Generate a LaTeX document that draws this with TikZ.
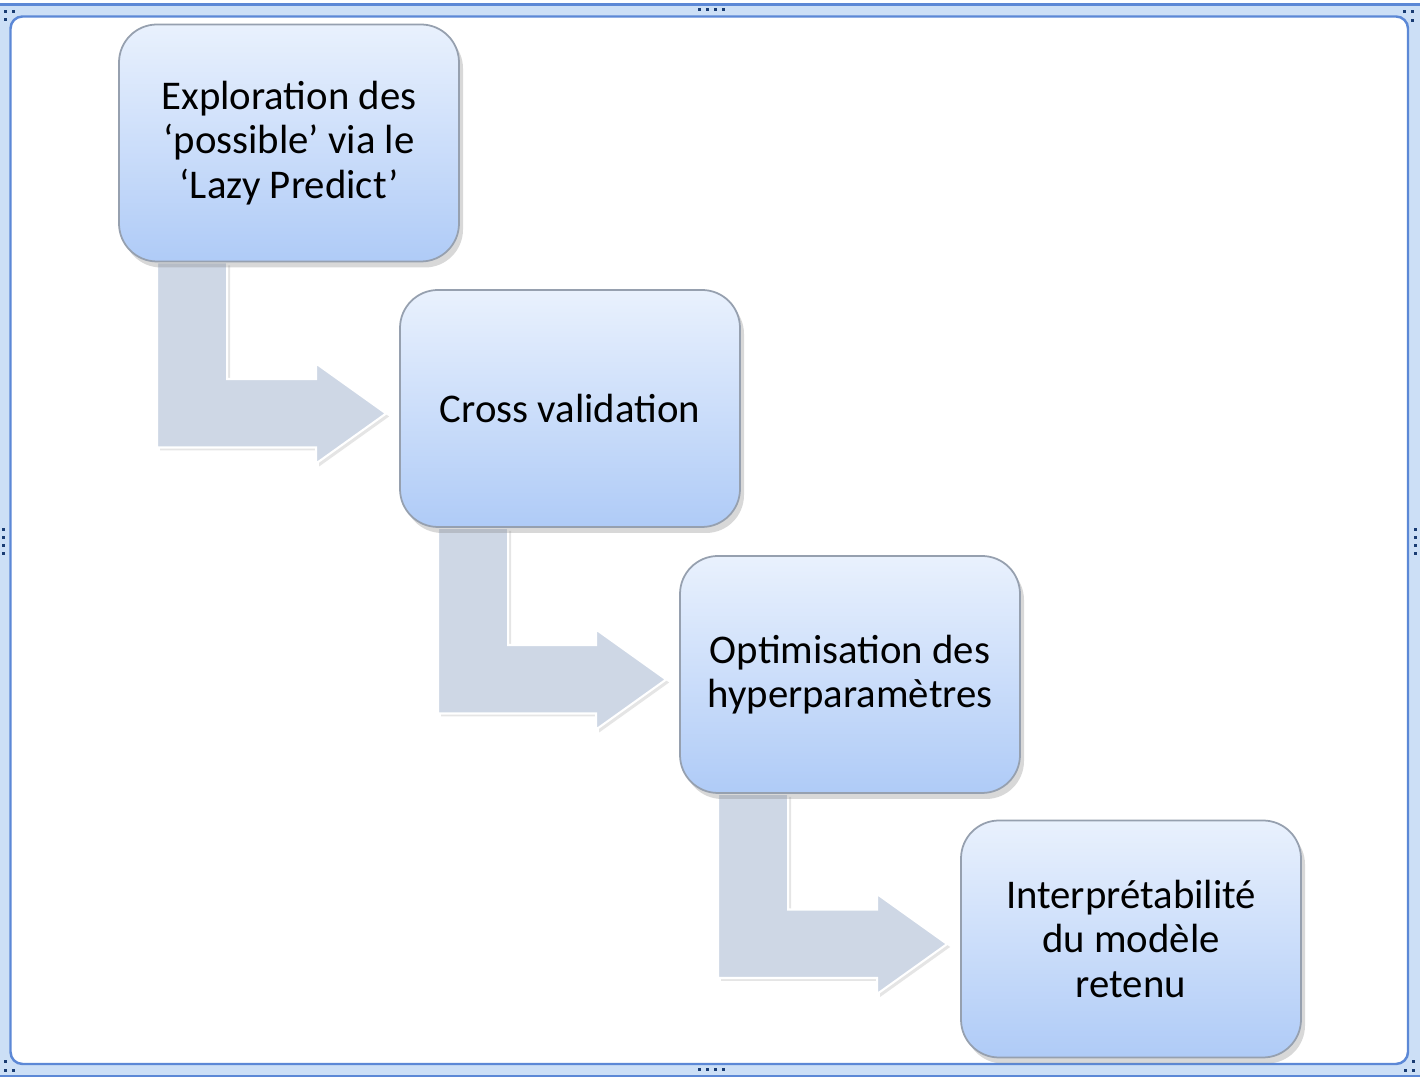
\documentclass[tikz,border=0pt]{standalone}
\usepackage{fontspec}
\setmainfont{Carlito}
\usepackage{xcolor}
\usetikzlibrary{shadows,backgrounds}

\definecolor{boxtop}{RGB}{233,241,253}
\definecolor{boxbot}{RGB}{175,203,247}
\definecolor{boxline}{RGB}{150,160,175}
\definecolor{arrowfill}{RGB}{206,215,229}
\definecolor{frameband}{RGB}{204,223,246}
\definecolor{frameline}{RGB}{92,136,214}
\definecolor{handle}{RGB}{25,60,115}

\tikzset{
  stepbox/.style={draw=boxline, line width=0.5pt, rounded corners=0.38cm,
    top color=boxtop, bottom color=boxbot, minimum width=3.4cm, minimum height=2.37cm,
    align=center, font=\fontsize{11.6}{12.6}\selectfont,
    drop shadow={shadow xshift=0.4mm, shadow yshift=-0.6mm, opacity=0.3}},
  bentarrow/.style={fill=arrowfill, draw=white, line width=0.6pt,
    drop shadow={shadow xshift=0.3mm, shadow yshift=-0.3mm, opacity=0.2}},
  grip/.style={fill=handle}
}

\begin{document}
\begin{tikzpicture}
\useasboundingbox (0,0) rectangle (14.2,-10.78);

\node[stepbox] (explo) at (2.89,-1.43) {Exploration des\\‘possible’ via le\\‘Lazy Predict’};
\node[stepbox] (cross) at (5.70,-4.085) {Cross validation};
\node[stepbox] (optim) at (8.50,-6.745) {Optimisation des\\hyperparamètres};
\node[stepbox] (inter) at (11.31,-9.39) {Interprétabilité\\du modèle\\retenu};

\begin{scope}[on background layer]
% frame
\fill[white] (0,0) rectangle (14.2,-10.78);
\fill[frameband] (0,-0.045) rectangle (14.2,-10.76);
\draw[frameline, line width=0.6pt] (0,-0.045) -- (14.2,-0.045);
\draw[frameline, line width=0.6pt] (0,-10.76) -- (14.2,-10.76);
\draw[frameline, line width=0.7pt, fill=white, rounded corners=0.12cm] (0.105,-0.165) rectangle (14.08,-10.64);
% grips
\foreach \x/\y in {4/10,12/10,4/18, 698/8,706/8,714/8,722/8, 1403/10,1411/10,1411/19,
  2/528,2/536,2/544,2/552, 1414/528,1414/536,1414/544,1414/552,
  698/1068,706/1068,714/1068,722/1068, 1412/1060,1404/1069,1412/1069, 4/1060,4/1069,12/1069}
  \fill[grip] (\x/100,-\y/100) rectangle ++(0.03,-0.03);

% bent arrows
\foreach \a/\b in {explo/cross, cross/optim, optim/inter}
  \draw[bentarrow] ([xshift=3.9mm]\a.south west) -- ([xshift=10.9mm]\a.south west)
    |- ([xshift=-8.3mm,yshift=2.95mm]\b.west) -- ([xshift=-8.3mm,yshift=4.5mm]\b.west)
    -- ([xshift=-1.3mm,yshift=-0.5mm]\b.west) -- ([xshift=-8.3mm,yshift=-5.5mm]\b.west)
    -- ([xshift=-8.3mm,yshift=-3.9mm]\b.west) -| cycle;
\end{scope}
\end{tikzpicture}
\end{document}
